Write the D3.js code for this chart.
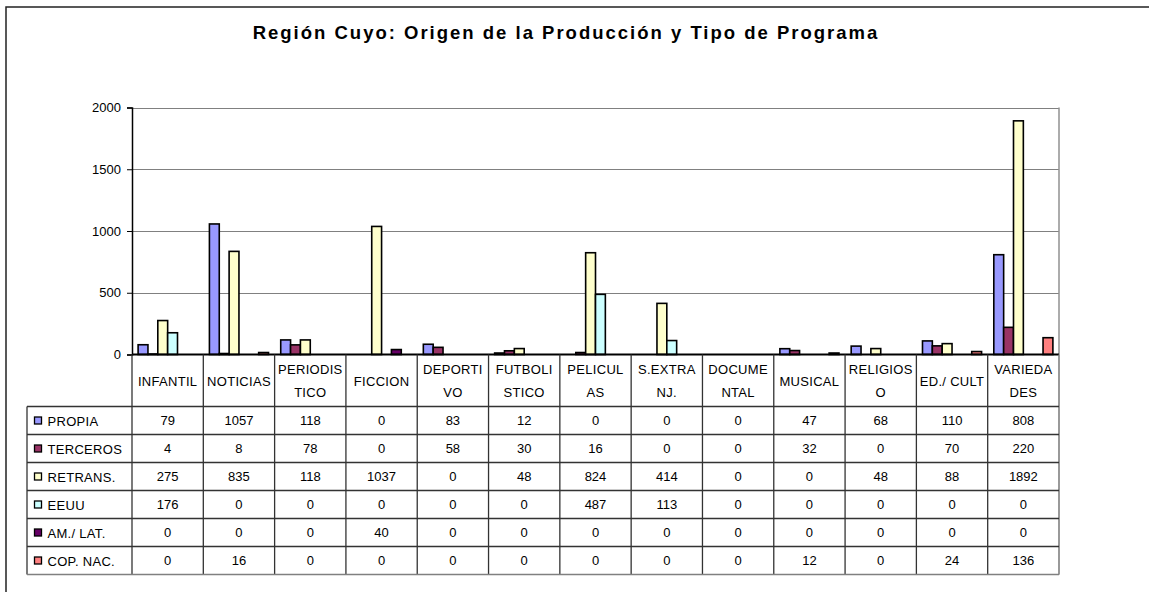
<!DOCTYPE html>
<html>
<head>
<meta charset="utf-8">
<script src="https://cdn.jsdelivr.net/npm/d3@7"></script>
<style>
  html, body { margin: 0; padding: 0; background: #fff; }
  svg { display: block; font-family: "Liberation Sans", Arial, sans-serif; }
</style>
</head>
<body>
<svg id="chart" width="1149" height="592"></svg>
<script>
// ---- DATA ----
const title = "Región Cuyo: Origen de la Producción y Tipo de Programa";
const categories = ["INFANTIL","NOTICIAS","PERIODISTICO","FICCION","DEPORTIVO","FUTBOLISTICO","PELICULAS","S.EXTRANJ.","DOCUMENTAL","MUSICAL","RELIGIOSO","ED./ CULT","VARIEDADES"];
const categoryLines = [["INFANTIL"],["NOTICIAS"],["PERIODIS","TICO"],["FICCION"],["DEPORTI","VO"],["FUTBOLI","STICO"],["PELICUL","AS"],["S.EXTRA","NJ."],["DOCUME","NTAL"],["MUSICAL"],["RELIGIOS","O"],["ED./ CULT"],["VARIEDA","DES"]];
const seriesNames = ["PROPIA","TERCEROS","RETRANS.","EEUU","AM./ LAT.","COP. NAC."];
const seriesColors = ["#9999FF","#993366","#FFFFCC","#CCFFFF","#660066","#FF8080"];
const propia   = [79,1057,118,0,83,12,0,0,0,47,68,110,808];
const terceros = [4,8,78,0,58,30,16,0,0,32,0,70,220];
const retrans  = [275,835,118,1037,0,48,824,414,0,0,48,88,1892];
const eeuu     = [176,0,0,0,0,0,487,113,0,0,0,0,0];
const amlat    = [0,0,0,40,0,0,0,0,0,0,0,0,0];
const copnac   = [0,16,0,0,0,0,0,0,0,12,0,24,136];
const seriesValues = [propia, terceros, retrans, eeuu, amlat, copnac];
const yTicks = [0,500,1000,1500,2000];

// ---- LAYOUT ----
const svg = d3.select("#chart");
const plotL = 132, plotR = 1059, plotT = 107.5, plotB = 354.5;
const tableL = 27, headerB = 406.5, rowH = 28, tableB = headerB + rowH * seriesNames.length;
const fs = 13, ls = 0.3;

// outer frame
svg.append("rect").attr("x", 6).attr("y", 7).attr("width", 1160).attr("height", 600)
  .attr("fill", "none").attr("stroke", "#222").attr("stroke-width", 1.5);

// title
svg.append("text").attr("x", 566).attr("y", 38.5).attr("text-anchor", "middle")
  .attr("font-size", 18.5).attr("font-weight", "bold").attr("letter-spacing", 2)
  .attr("fill", "#000").text(title);

const x0 = d3.scaleBand().domain(categories).range([plotL, plotR]).paddingInner(0).paddingOuter(0);
const x1 = d3.scaleBand().domain(d3.range(seriesNames.length)).range([0, x0.bandwidth()]).paddingInner(0).paddingOuter(0.62);
const y = d3.scaleLinear().domain([0, 2000]).range([plotB, plotT]);

// gridlines
svg.append("g").selectAll("line").data(yTicks.filter(d => d > 0)).join("line")
  .attr("x1", plotL).attr("x2", plotR)
  .attr("y1", d => Math.round(y(d)) + 0.5).attr("y2", d => Math.round(y(d)) + 0.5)
  .attr("stroke", "#808080").attr("stroke-width", 1);

// plot right border
svg.append("line").attr("x1", plotR).attr("x2", plotR).attr("y1", plotT).attr("y2", tableB)
  .attr("stroke", "#909090").attr("stroke-width", 1.5);

// bars
const barsG = svg.append("g");
categories.forEach((c, ci) => {
  seriesValues.forEach((vals, si) => {
    const v = vals[ci];
    if (v <= 0) return;
    barsG.append("rect")
      .attr("x", x0(c) + x1(si))
      .attr("y", y(v))
      .attr("width", x1.bandwidth())
      .attr("height", y(0) - y(v))
      .attr("fill", seriesColors[si])
      .attr("stroke", "#000").attr("stroke-width", 1.6);
  });
});

// y axis
const yAxis = d3.axisLeft(y).tickValues(yTicks).tickSize(5).tickPadding(6).tickFormat(d3.format("d"));
const ya = svg.append("g").attr("transform", `translate(${plotL},0)`).call(yAxis);
ya.select(".domain").attr("stroke", "#000").attr("stroke-width", 1.5);
ya.selectAll(".tick line").attr("stroke", "#000");
ya.selectAll("text").attr("font-size", fs).attr("fill", "#000")
  .attr("font-family", "'Liberation Sans', Arial, sans-serif");

// zero axis line
svg.append("line").attr("x1", plotL).attr("x2", plotR).attr("y1", plotB).attr("y2", plotB)
  .attr("stroke", "#000").attr("stroke-width", 2);

// ---- DATA TABLE ----
const tbl = svg.append("g");
const lineColor = "#333";
[plotL].concat(categories.map(c => x0(c) + x0.bandwidth())).forEach((xv, i) => {
  tbl.append("line").attr("x1", xv).attr("x2", xv).attr("y1", plotB).attr("y2", tableB)
    .attr("stroke", i === categories.length ? "#909090" : lineColor).attr("stroke-width", 1.3);
});
tbl.append("line").attr("x1", tableL).attr("x2", tableL).attr("y1", headerB).attr("y2", tableB)
  .attr("stroke", lineColor).attr("stroke-width", 1.3);
d3.range(seriesNames.length + 1).forEach(i => {
  const yy = headerB + i * rowH;
  tbl.append("line").attr("x1", tableL).attr("x2", plotR).attr("y1", yy).attr("y2", yy)
    .attr("stroke", i === seriesNames.length ? "#808080" : lineColor).attr("stroke-width", 1.3);
});

// header labels
categories.forEach((c, ci) => {
  const lines = categoryLines[ci];
  const cx = x0(c) + x0.bandwidth() / 2;
  const cy = (plotB + headerB) / 2;
  const lh = 23;
  const t = tbl.append("text").attr("text-anchor", "middle").attr("font-size", fs)
    .attr("letter-spacing", ls).attr("fill", "#000");
  lines.forEach((ln, li) => {
    t.append("tspan").attr("x", cx)
      .attr("y", cy + (li - (lines.length - 1) / 2) * lh + 5)
      .text(ln);
  });
});

// legend column + values
seriesNames.forEach((s, si) => {
  const cy = headerB + si * rowH + rowH / 2;
  tbl.append("rect").attr("x", 34.5).attr("y", cy - 3.5).attr("width", 7).attr("height", 7)
    .attr("fill", seriesColors[si]).attr("stroke", "#000").attr("stroke-width", 1.3);
  tbl.append("text").attr("x", 47.5).attr("y", cy + 5).attr("font-size", fs)
    .attr("letter-spacing", ls).attr("fill", "#000").text(s);
  categories.forEach((c, ci) => {
    tbl.append("text").attr("x", x0(c) + x0.bandwidth() / 2).attr("y", cy + 4)
      .attr("text-anchor", "middle").attr("font-size", fs).attr("fill", "#000")
      .text(seriesValues[si][ci]);
  });
});
</script>
</body>
</html>
